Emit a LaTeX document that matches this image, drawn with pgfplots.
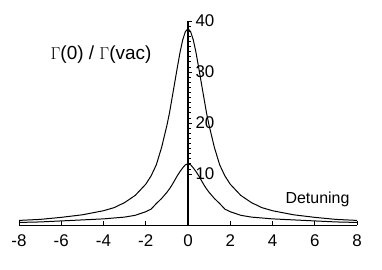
\documentclass[border=0pt]{standalone}
\usepackage{pgfplots}
\pgfplotsset{compat=1.18}
\usepackage{fontspec}
\setmainfont{Liberation Sans}
\begin{document}
\begin{tikzpicture}
\path[use as bounding box] (0,0) rectangle (382bp,270bp);
\begin{axis}[
  at={(19bp,45bp)}, anchor=south west,
  scale only axis, width=338bp, height=204bp,
  xmin=-8, xmax=8, ymin=0, ymax=40,
  axis lines=middle, axis line style={-},
  x axis line style={line width=0.8pt},
  y axis line style={line width=1.3pt},
  hide obscured x ticks=false,
  xtick={-8,-6,...,8}, ytick={10,20,30,40},
  minor y tick num=9,
  tick align=inside,
  major tick length=4bp, minor tick length=3bp,
  tick style={black, line width=0.7pt},
  /pgf/number format/assume math mode=true,
  ticklabel style={font=\fontsize{17}{20}\selectfont},
  xticklabel style={anchor=north, yshift=-6bp},
  yticklabel style={anchor=west, xshift=4bp},
  clip=false,
]
\addplot[black, line width=1pt] coordinates {
(-8,0.9) (-7,1.1) (-6,1.5) (-5,2.0) (-4,2.8) (-3.5,3.4) (-3,4.4) (-2.5,5.8) (-2,8.0) (-1.75,9.6) (-1.5,11.8) (-1.25,15.2) (-1,19.5) (-0.875,22.0) (-0.75,25.0) (-0.625,28.0) (-0.5,31.0) (-0.375,33.9) (-0.25,36.3) (-0.125,37.9) (0,38.5)
(0.125,37.9) (0.25,36.3) (0.375,33.9) (0.5,31.0) (0.625,28.0) (0.75,25.0) (0.875,22.0) (1,19.5) (1.25,15.2) (1.5,11.8) (1.75,9.6) (2,8.0) (2.5,5.8) (3,4.4) (3.5,3.4) (4,2.8) (5,2.0) (6,1.5) (7,1.1) (8,0.9)
};
\addplot[black, line width=1pt] coordinates {
(-8,0.5) (-7,0.6) (-6,0.8) (-5,1.0) (-4,1.2) (-3,1.55) (-2.5,1.9) (-2,2.6) (-1.75,3.1) (-1.5,4.2) (-1.25,5.2) (-1,6.4) (-0.875,7.1) (-0.75,7.9) (-0.625,8.8) (-0.5,9.7) (-0.375,10.5) (-0.25,11.2) (-0.125,11.8) (0,12.0)
(0.125,11.8) (0.25,11.2) (0.375,10.5) (0.5,9.7) (0.625,8.8) (0.75,7.9) (0.875,7.1) (1,6.4) (1.25,5.2) (1.5,4.2) (1.75,3.1) (2,2.6) (2.5,1.9) (3,1.55) (4,1.2) (5,1.0) (6,0.8) (7,0.6) (8,0.5)
};
\node[font=\fontsize{19}{22}\selectfont] at (axis cs:-4.12,33.5) {$\Gamma$(0) / $\Gamma$(vac)};
\node[font=\fontsize{16}{19}\selectfont] at (axis cs:6.13,5.1) {Detuning};
\end{axis}
\end{tikzpicture}
\end{document}
